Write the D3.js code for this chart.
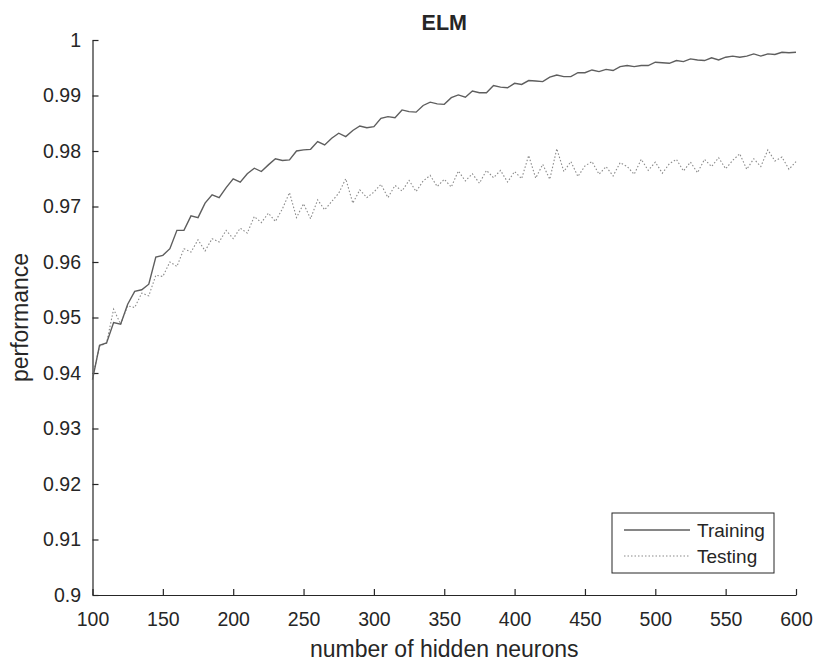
<!DOCTYPE html>
<html lang="en">
<head>
    <meta charset="UTF-8">
    <title>ELM</title>
    <script src="https://cdn.jsdelivr.net/npm/d3@7"></script>
    <style>
        body { margin: 0; background: #fff; }
        text { font-family: "Liberation Sans", Arial, Helvetica, sans-serif; fill: #262626; }
    </style>
</head>
<body>
<div id="fig"></div>
<script>
    // number of hidden neurons (sampled every 5)
    const neurons = [100,105,110,115,120,125,130,135,140,145,150,155,160,165,170,175,180,185,190,195,
        200,205,210,215,220,225,230,235,240,245,250,255,260,265,270,275,280,285,290,295,
        300,305,310,315,320,325,330,335,340,345,350,355,360,365,370,375,380,385,390,395,
        400,405,410,415,420,425,430,435,440,445,450,455,460,465,470,475,480,485,490,495,
        500,505,510,515,520,525,530,535,540,545,550,555,560,565,570,575,580,585,590,595,600]

    const training = [0.9388,0.9450,0.9454,0.9491,0.9488,0.9524,0.9547,0.9550,0.9560,0.9609,
        0.9612,0.9624,0.9657,0.9657,0.9683,0.9680,0.9706,0.9721,0.9716,0.9734,
        0.9750,0.9744,0.9759,0.9769,0.9763,0.9775,0.9786,0.9783,0.9784,0.9800,
        0.9802,0.9803,0.9817,0.9811,0.9823,0.9832,0.9826,0.9837,0.9845,0.9842,
        0.9844,0.9859,0.9862,0.9860,0.9874,0.9871,0.9870,0.9882,0.9888,0.9885,
        0.9884,0.9896,0.9901,0.9897,0.9908,0.9905,0.9905,0.9918,0.9915,0.9914,
        0.9922,0.9920,0.9927,0.9926,0.9925,0.9933,0.9937,0.9934,0.9934,0.9941,
        0.9941,0.9946,0.9943,0.9947,0.9945,0.9952,0.9954,0.9952,0.9954,0.9954,
        0.9960,0.9959,0.9958,0.9963,0.9961,0.9966,0.9964,0.9963,0.9968,0.9964,
        0.9969,0.9971,0.9969,0.9971,0.9975,0.9971,0.9975,0.9974,0.9978,0.9977,0.9978]

    const testing = [0.9392,0.9448,0.9454,0.9515,0.9488,0.9521,0.9518,0.9544,0.9539,0.9576,
        0.9574,0.9600,0.9592,0.9624,0.9618,0.9640,0.9620,0.9642,0.9636,0.9657,
        0.9642,0.9661,0.9652,0.9682,0.9671,0.9688,0.9673,0.9696,0.9725,0.9680,
        0.9705,0.9678,0.9712,0.9694,0.9709,0.9724,0.9750,0.9706,0.9730,0.9716,
        0.9726,0.9740,0.9716,0.9738,0.9728,0.9747,0.9727,0.9746,0.9756,0.9736,
        0.9749,0.9735,0.9764,0.9746,0.9759,0.9742,0.9765,0.9752,0.9765,0.9744,
        0.9763,0.9750,0.9792,0.9751,0.9776,0.9749,0.9804,0.9763,0.9781,0.9754,
        0.9773,0.9781,0.9758,0.9772,0.9755,0.9779,0.9772,0.9758,0.9785,0.9765,
        0.9780,0.9760,0.9777,0.9785,0.9764,0.9780,0.9761,0.9785,0.9772,0.9788,
        0.9768,0.9783,0.9795,0.9767,0.9786,0.9772,0.9802,0.9782,0.9789,0.9767,0.9781]

    const xTicks = [100,150,200,250,300,350,400,450,500,550,600]
    const yTicks = [0.9,0.91,0.92,0.93,0.94,0.95,0.96,0.97,0.98,0.99,1]
    const seriesNames = ["Training", "Testing"]

    const width = 815, height = 664
    const plot = {left: 92.5, right: 796, top: 40, bottom: 595}

    let svg = d3.select("#fig")
        .append("svg")
        .attr("width", width)
        .attr("height", height)

    const xScale = d3.scaleLinear().domain([100, 600]).range([plot.left, plot.right])
    const yScale = d3.scaleLinear().domain([0.9, 1]).range([plot.bottom, plot.top])

    // axes, ticks pointing inward like matlab
    const xAxis = svg.append("g")
        .attr("transform", `translate(0,${plot.bottom})`)
        .call(d3.axisBottom(xScale).tickValues(xTicks).tickSizeInner(-6).tickSizeOuter(0)
            .tickPadding(17).tickFormat(d3.format("d")))
    const yAxis = svg.append("g")
        .attr("transform", `translate(${plot.left},0)`)
        .call(d3.axisLeft(yScale).tickValues(yTicks).tickSizeInner(-6).tickSizeOuter(0)
            .tickPadding(11.5).tickFormat(d => d === 1 ? "1" : d3.format(".2~f")(d)))

    svg.selectAll(".domain, .tick line").attr("stroke", "#262626").attr("stroke-width", 1.2)
    svg.selectAll(".tick text")
        .attr("fill", "#262626")
        .style("font-size", "19.5px")
        .style("font-family", "Liberation Sans, Arial, sans-serif")

    const points = neurons.map((n, i) => ({n: n, train: training[i], test: testing[i]}))

    const trainLine = d3.line().x(d => xScale(d.n)).y(d => yScale(d.train))
    const testLine = d3.line().x(d => xScale(d.n)).y(d => yScale(d.test))

    svg.append("path")
        .datum(points)
        .attr("d", testLine)
        .attr("fill", "none")
        .attr("stroke", "#8a8a8a")
        .attr("stroke-width", 1.1)
        .attr("stroke-dasharray", "1.5,2")

    svg.append("path")
        .datum(points)
        .attr("d", trainLine)
        .attr("fill", "none")
        .attr("stroke", "#5e5e5e")
        .attr("stroke-width", 1.4)

    // title and labels
    svg.append("text")
        .attr("x", (plot.left + plot.right) / 2)
        .attr("y", 30)
        .attr("text-anchor", "middle")
        .style("font-size", "21.5px")
        .style("font-weight", "bold")
        .attr("fill", "#000")
        .text("ELM")

    svg.append("text")
        .attr("x", (plot.left + plot.right) / 2)
        .attr("y", 657)
        .attr("text-anchor", "middle")
        .style("font-size", "23px")
        .text("number of hidden neurons")

    svg.append("text")
        .attr("transform", `translate(28,${(plot.top + plot.bottom) / 2}) rotate(-90)`)
        .attr("text-anchor", "middle")
        .style("font-size", "23px")
        .text("performance")

    // legend
    let legend = svg.append("g").attr("transform", "translate(612,513)")
    legend.append("rect")
        .attr("width", 162).attr("height", 60)
        .attr("fill", "#fff").attr("stroke", "#262626").attr("stroke-width", 1)
    const legendStyle = [
        {stroke: "#5e5e5e", dash: null, w: 1.4},
        {stroke: "#8a8a8a", dash: "1.5,2", w: 1.1}
    ]
    seriesNames.forEach((name, i) => {
        legend.append("line")
            .attr("x1", 12).attr("x2", 78)
            .attr("y1", 17 + i * 26).attr("y2", 17 + i * 26)
            .attr("stroke", legendStyle[i].stroke)
            .attr("stroke-width", legendStyle[i].w)
            .attr("stroke-dasharray", legendStyle[i].dash)
        legend.append("text")
            .attr("x", 85).attr("y", 24 + i * 26)
            .style("font-size", "19px")
            .text(name)
    })
</script>
</body>
</html>
